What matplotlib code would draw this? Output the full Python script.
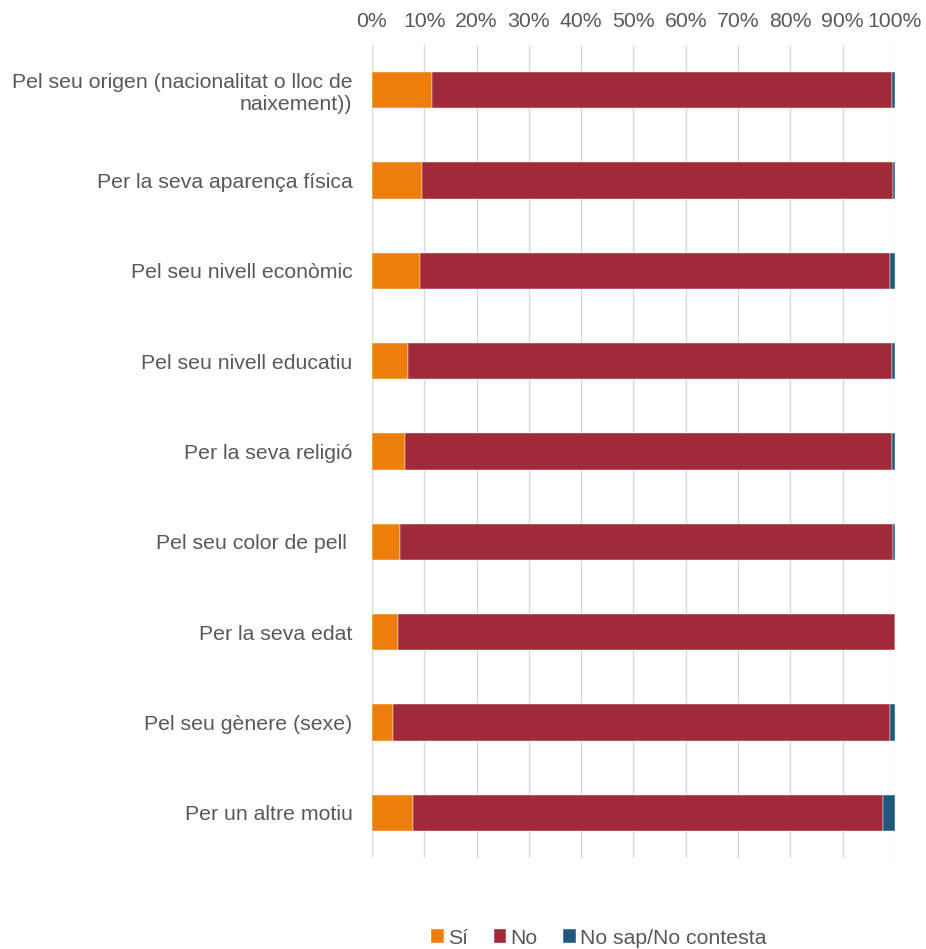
import numpy as np
import matplotlib.pyplot as plt

plt.rcParams['font.family'] = ['Liberation Sans', 'DejaVu Sans']

categories = [
    "Pel seu origen (nacionalitat o lloc de\nnaixement))",
    "Per la seva aparença física",
    "Pel seu nivell econòmic",
    "Pel seu nivell educatiu",
    "Per la seva religió",
    "Pel seu color de pell ",
    "Per la seva edat",
    "Pel seu gènere (sexe)",
    "Per un altre motiu",
]
si = [11.4, 9.6, 9.2, 6.9, 6.3, 5.4, 5.0, 4.1, 7.9]
ns_nc = [0.6, 0.3, 0.9, 0.6, 0.6, 0.3, 0.0, 0.9, 2.3]
no = [100 - a - b for a, b in zip(si, ns_nc)]

series = ["Sí", "No", "No sap/No contesta"]
colors = ["#EE7F0C", "#A02A37", "#1D5A7E"]
txt = "#595959"

fig = plt.figure(figsize=(9.26, 9.49), dpi=100)
ax = fig.add_axes([0.4017, 0.0959, 0.5648, 0.8567])

y = np.arange(len(categories))
left = np.zeros(len(categories))
for vals, name, c in zip([si, no, ns_nc], series, colors):
    ax.barh(y, vals, left=left, height=0.4, color=c, label=name,
            edgecolor="white", linewidth=0.3)
    left += np.array(vals)

ax.set_xlim(0, 100)
ax.set_ylim(len(categories) - 0.5, -0.5)
ax.set_yticks(y)
ax.set_yticklabels(categories, fontsize=15.3, color=txt)
ax.set_xticks(np.arange(0, 101, 10))
ax.set_xticklabels([f"{v}%" for v in range(0, 101, 10)], fontsize=15.3, color=txt)
ax.xaxis.tick_top()
ax.tick_params(axis="x", length=0, pad=10)
ax.tick_params(axis="y", length=0, pad=14)
ax.grid(axis="x", color="#D9D9D9", linewidth=1)
ax.set_axisbelow(True)
for s in ax.spines.values():
    s.set_visible(False)

fig.legend(loc="center", bbox_to_anchor=(599 / 926, 1 - 938 / 949), ncol=3,
           frameon=False, fontsize=15.3, handlelength=0.6, handleheight=0.6,
           handletextpad=0.2, columnspacing=1.2, labelcolor=txt)

fig.savefig("out.png", dpi=100)
